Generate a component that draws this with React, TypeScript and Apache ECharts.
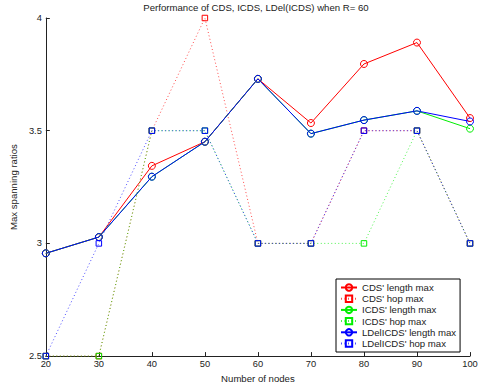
import React, { useEffect, useRef } from "react";
import * as echarts from "echarts";

const nodes = [20, 30, 40, 50, 60, 70, 80, 90, 100];
const cdsLength = [2.956, 3.028, 3.344, 3.451, 3.73, 3.534, 3.796, 3.891, 3.556];
const cdsHop = [2.5, 2.5, 3.5, 4, 3, 3, 3.5, 3.5, 3];
const icdsLength = [2.956, 3.028, 3.296, 3.451, 3.73, 3.487, 3.547, 3.588, 3.509];
const icdsHop = [2.5, 2.5, 3.5, 3.5, 3, 3, 3, 3.5, 3];
const ldelLength = [2.956, 3.028, 3.296, 3.451, 3.73, 3.487, 3.547, 3.588, 3.541];
const ldelHop = [2.5, 3, 3.5, 3.5, 3, 3, 3.5, 3.5, 3];

const titleText = "Performance of CDS, ICDS, LDel(ICDS) when R= 60";
const xName = "Number of nodes";
const yName = "Max spanning ratios";

const FONT = "Liberation Sans, Arial, Helvetica, sans-serif";
const FS = 9.6;

function pair(xs: number[], ys: number[]) {
  return xs.map((x, i) => [x, ys[i]]);
}

function lenSeries(name: string, color: string, ys: number[]) {
  return {
    name,
    type: "line",
    data: pair(nodes, ys),
    symbol: "circle",
    symbolSize: 7,
    clip: false,
    lineStyle: { color, width: 1, type: "solid" },
    itemStyle: { color: "rgba(255,255,255,0)", borderColor: color, borderWidth: 1 },
    emphasis: { disabled: true },
  };
}

function hopSeries(name: string, color: string, ys: number[]) {
  return {
    name,
    type: "line",
    data: pair(nodes, ys),
    symbol: "rect",
    symbolSize: 5.5,
    clip: false,
    lineStyle: { color, width: 1, type: [1, 2.5], opacity: 0.7 },
    itemStyle: { color: "rgba(255,255,255,0)", borderColor: color, borderWidth: 1 },
    emphasis: { disabled: true },
  };
}

export default function App() {
  const ref = useRef<HTMLDivElement>(null);
  useEffect(() => {
    if (!ref.current) return;
    const chart = echarts.init(ref.current, null, { renderer: "svg" });
    chart.setOption({
      animation: false,
      backgroundColor: "#fff",
      textStyle: { fontFamily: FONT },
      graphic: [
        {
          type: "text",
          x: 256,
          y: 7,
          style: {
            text: titleText,
            fontSize: FS,
            fontFamily: FONT,
            fill: "#222",
            align: "center",
            verticalAlign: "middle",
          },
        },
      ],
      grid: { left: 41, right: 14, top: 18, bottom: 31, containLabel: false },
      legend: {
        orient: "vertical",
        left: 336,
        top: 279,
        padding: [3, 4, 3, 4],
        itemWidth: 16,
        itemHeight: 8,
        itemGap: 0.2,
        backgroundColor: "#fff",
        borderColor: "#000",
        borderWidth: 1,
        borderRadius: 0,
        textStyle: { fontSize: FS, lineHeight: 11, color: "#222", fontFamily: FONT },
        data: [
          "CDS' length max",
          "CDS' hop max",
          "ICDS' length max",
          "ICDS' hop max",
          "LDelICDS' length max",
          "LDelICDS' hop max",
        ],
      },
      xAxis: {
        type: "value",
        min: 20,
        max: 100,
        interval: 10,
        name: xName,
        nameLocation: "middle",
        nameGap: 15,
        nameTextStyle: { fontSize: FS, color: "#222", fontFamily: FONT },
        axisLine: { lineStyle: { color: "#222", width: 1 } },
        axisTick: { inside: true, length: 4, lineStyle: { color: "#222" } },
        axisLabel: { fontSize: 9.3, color: "#222", margin: 3, fontFamily: FONT },
        splitLine: { show: false },
      },
      yAxis: {
        type: "value",
        min: 2.5,
        max: 4,
        interval: 0.5,
        name: yName,
        nameLocation: "middle",
        nameGap: 16,
        nameRotate: 90,
        nameTextStyle: { fontSize: FS, color: "#222", fontFamily: FONT },
        axisLine: { show: true, lineStyle: { color: "#222", width: 1 } },
        axisTick: { show: true, inside: true, length: 4, lineStyle: { color: "#222" } },
        axisLabel: { fontSize: 9.3, color: "#222", margin: 4, fontFamily: FONT },
        splitLine: { show: false },
      },
      series: [
        lenSeries("CDS' length max", "#ff0000", cdsLength),
        hopSeries("CDS' hop max", "#ff0000", cdsHop),
        lenSeries("ICDS' length max", "#00ee00", icdsLength),
        hopSeries("ICDS' hop max", "#00ee00", icdsHop),
        lenSeries("LDelICDS' length max", "#0000ff", ldelLength),
        hopSeries("LDelICDS' hop max", "#0000ff", ldelHop),
      ],
    });
    return () => chart.dispose();
  }, []);
  return (
    <div
      ref={ref}
      style={{ position: "absolute", left: 0, top: 0, width: 484, height: 388 }}
    />
  );
}
